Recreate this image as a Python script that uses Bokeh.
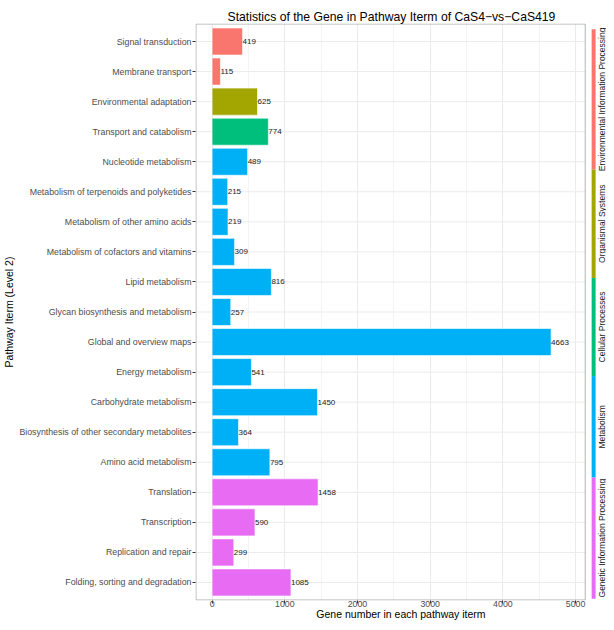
import math
from bokeh.plotting import figure
from bokeh.models import ColumnDataSource, Range1d, FixedTicker
from bokeh.embed import file_html
from bokeh.resources import INLINE
from bokeh.core.properties import value

# ---------------- data ----------------
pathways = [
    "Signal transduction",
    "Membrane transport",
    "Environmental adaptation",
    "Transport and catabolism",
    "Nucleotide metabolism",
    "Metabolism of terpenoids and polyketides",
    "Metabolism of other amino acids",
    "Metabolism of cofactors and vitamins",
    "Lipid metabolism",
    "Glycan biosynthesis and metabolism",
    "Global and overview maps",
    "Energy metabolism",
    "Carbohydrate metabolism",
    "Biosynthesis of other secondary metabolites",
    "Amino acid metabolism",
    "Translation",
    "Transcription",
    "Replication and repair",
    "Folding, sorting and degradation",
]
genes = [419, 115, 625, 774, 489, 215, 219, 309, 816, 257,
         4663, 541, 1450, 364, 795, 1458, 590, 299, 1085]
groups = (["Environmental Information Processing"] * 2
          + ["Organismal Systems"]
          + ["Cellular Processes"]
          + ["Metabolism"] * 11
          + ["Genetic Information Processing"] * 4)
group_names = ["Environmental Information Processing", "Organismal Systems",
               "Cellular Processes", "Metabolism", "Genetic Information Processing"]
x_major_ticks = [0, 1000, 2000, 3000, 4000, 5000]
x_minor_ticks = [500, 1500, 2500, 3500, 4500]

# ---------------- styles / layout ----------------
group_colors = ["#F8766D", "#A3A500", "#00BF7D", "#00B0F6", "#E76BF3"]
color_of = dict(zip(group_names, group_colors))
FONT = "Liberation Sans"
W, H = 606, 622
BORDER_L, BORDER_T = 191, 23          # frame offset inside the figure
PANEL_PX = (191, 585)                 # panel left/right (figure px)
FRAME_RIGHT_PX = W                    # frame runs to figure edge (strip lives there)
PANEL_X = (-228, 5139)                # data limits of the panel
units_per_px = (PANEL_X[1] - PANEL_X[0]) / (PANEL_PX[1] - PANEL_PX[0])
x_end = PANEL_X[1] + (FRAME_RIGHT_PX - PANEL_PX[1]) * units_per_px

# strip layout: x in figure px, y as fraction of frame height (0 = top)
STRIP_EDGES = [0.010, 0.253, 0.441, 0.611, 0.787, 0.997]
STRIP_X = (591, 595)
STRIP_TEXT_X = 601
EDGE = 0.0009                         # half-pixel inset for the panel border

n = len(pathways)
ypos = [n - 1 - i for i in range(n)]   # first pathway at the top

src = ColumnDataSource(dict(
    y=ypos,
    genes=genes,
    label=[str(g) for g in genes],
    color=[color_of[g] for g in groups],
))

p = figure(
    width=W, height=H,
    y_range=Range1d(-0.6, n - 1 + 0.6),
    x_range=Range1d(PANEL_X[0], x_end),
    output_backend="svg", toolbar_location=None,
    min_border_left=BORDER_L, min_border_top=BORDER_T,
    min_border_right=0, min_border_bottom=0,
)
p.extra_x_ranges = {"px": Range1d(PANEL_PX[0], FRAME_RIGHT_PX)}
p.extra_y_ranges = {"px": Range1d(1, 0)}

p.title.text = "Statistics of the Gene in Pathway Iterm of CaS4\u2212vs\u2212CaS419"
p.title.align = "left"
p.title.offset = 32
p.title.text_font = FONT
p.title.text_font_size = "12.2px"
p.title.text_font_style = "normal"
p.title.text_color = "#000000"
p.title.standoff = 0

p.outline_line_color = None
p.background_fill_color = "white"

# horizontal grid lines (only across the panel)
p.segment(x0=PANEL_X[0], x1=PANEL_X[1], y0="y", y1="y", source=src,
          line_color="#EBEBEB", line_width=1)

p.hbar(y="y", left=0, right="genes", height=0.9, source=src,
       fill_color="color", line_color="white", line_width=1, line_alpha=0.6)
p.text(x="genes", y="y", text="label", source=src,
       text_font=value(FONT), text_font_size="8px", text_color="#1A1A1A",
       text_align="left", text_baseline="middle", x_offset=0)

# panel border
p.quad(left=PANEL_PX[0] + 0.5, right=PANEL_PX[1] - 0.5,
       top=EDGE, bottom=1 - EDGE,
       x_range_name="px", y_range_name="px",
       fill_color=None, line_color="#B3B3B3", line_width=1)

# axes
p.xaxis.ticker = FixedTicker(ticks=x_major_ticks, minor_ticks=x_minor_ticks)
p.yaxis.ticker = FixedTicker(ticks=ypos)
p.yaxis.major_label_overrides = {y: name for y, name in zip(ypos, pathways)}
p.xaxis.axis_label = "Gene number in each pathway iterm"
p.yaxis.axis_label = "Pathway Iterm (Level 2)"
for ax in (p.xaxis[0], p.yaxis[0]):
    ax.axis_line_color = None
    ax.major_tick_line_color = "#333333"
    ax.major_tick_out = 3
    ax.major_tick_in = 0
    ax.minor_tick_line_color = None
    ax.major_label_text_font = FONT
    ax.major_label_text_font_size = "8.8px"
    ax.major_label_text_color = "#4D4D4D"
    ax.axis_label_text_font = FONT
    ax.axis_label_text_font_size = "10.5px"
    ax.axis_label_text_font_style = "normal"
    ax.axis_label_text_color = "#000000"
p.xaxis.major_label_standoff = -4
p.xaxis.axis_label_standoff = -2
p.yaxis.major_label_standoff = 1
p.yaxis.axis_label_standoff = 1

p.xgrid.grid_line_color = "#EBEBEB"
p.xgrid.minor_grid_line_color = "#F4F4F4"
p.ygrid.visible = False

# ---------------- group strip ----------------
strip_src = ColumnDataSource(dict(
    top=STRIP_EDGES[:-1],
    bottom=STRIP_EDGES[1:],
    mid=[(a + b) / 2 for a, b in zip(STRIP_EDGES[:-1], STRIP_EDGES[1:])],
    name=group_names,
    color=group_colors,
))
p.quad(left=STRIP_X[0], right=STRIP_X[1], top="top", bottom="bottom", source=strip_src,
       x_range_name="px", y_range_name="px", fill_color="color", line_color=None)
p.text(x=STRIP_TEXT_X, y="mid", text="name", source=strip_src, angle=math.pi / 2,
       x_range_name="px", y_range_name="px",
       text_font=value(FONT), text_font_size="8.5px", text_color="#1A1A1A",
       text_align="center", text_baseline="middle")

open("out.html", "w").write(file_html(p, INLINE))
